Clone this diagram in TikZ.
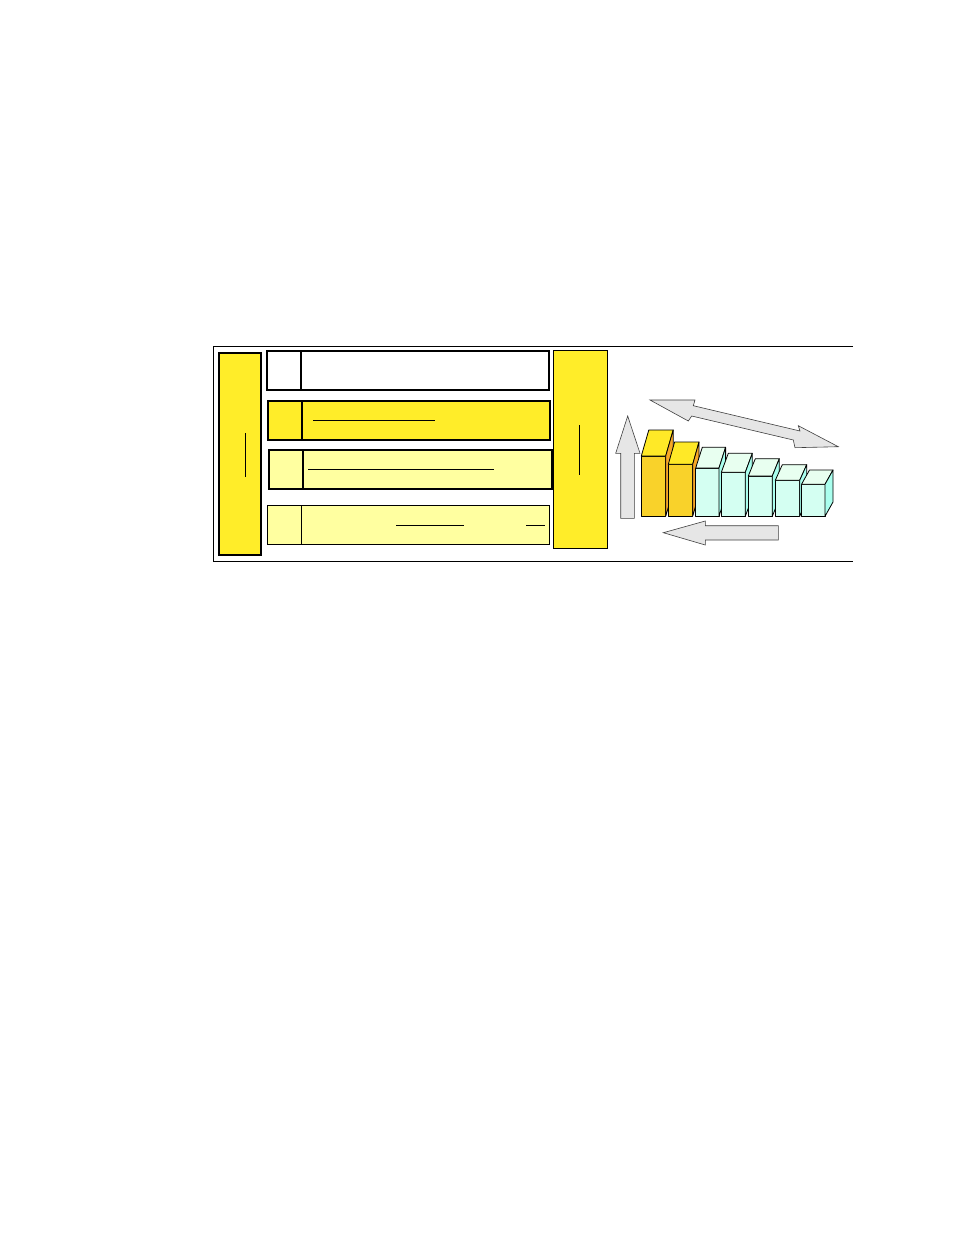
\documentclass[tikz,border=0pt]{standalone}
\definecolor{baryellow}{HTML}{FFED29}
\definecolor{paleyellow}{HTML}{FFFFA0}
\definecolor{goldfront}{HTML}{F9D22A}
\definecolor{goldtop}{HTML}{FFE927}
\definecolor{goldside}{HTML}{F7A826}
\definecolor{cyanfront}{HTML}{D4FFF2}
\definecolor{cyantop}{HTML}{E8FFF0}
\definecolor{cyanside}{HTML}{AAFFEE}
\definecolor{arrowgray}{HTML}{E6E6E6}
\definecolor{arrowedge}{HTML}{404040}
\newcommand\mycube[9]{%
  \filldraw[cubeedge, fill=#7] (#1,#4) rectangle (#2,#3);
  \filldraw[cubeedge, fill=#8] (#1,#3) -- (#1+#5,#3-#6) -- (#2+#5,#3-#6) -- (#2,#3) -- cycle;
  \filldraw[cubeedge, fill=#9] (#2,#3) -- (#2+#5,#3-#6) -- (#2+#5,#4-#6) -- (#2,#4) -- cycle;
}
\begin{document}
\begin{tikzpicture}[x=1pt,y=-1pt,
  thickbox/.style={draw=black, line width=2pt},
  thinbox/.style={draw=black, line width=1pt},
  rulemark/.style={draw=black, line width=0.9pt},
  grayarrow/.style={fill=arrowgray, draw=arrowedge, line width=0.6pt, line join=miter},
  cubeedge/.style={draw=black, line width=0.8pt, line join=round}]
\useasboundingbox (0,0) rectangle (954,1235);
\fill[white] (0,0) rectangle (954,1235);
% outer frame (open on the right)
\draw[line width=1pt] (853,346.3) -- (213.3,346.3) -- (213.3,561) -- (853,561);
% left bar
\filldraw[thickbox, fill=baryellow] (219,352.7) rectangle (261,555);
\draw[rulemark] (245.3,433) -- (245.3,476.7);
% right bar
\filldraw[thinbox, fill=baryellow] (553.3,350.3) rectangle (607.7,548.7);
\draw[rulemark] (579.3,425) -- (579.3,474.7);
% row 1
\filldraw[thickbox, fill=white] (266.7,350.7) rectangle (549.3,390);
\draw[thickbox] (300.7,350.7) -- (300.7,390);
% row 2
\filldraw[thickbox, fill=baryellow] (267.7,400.7) rectangle (550.3,440);
\draw[thickbox] (302,400.7) -- (302,440);
\draw[rulemark] (313,420.3) -- (435,420.3);
% row 3
\filldraw[thickbox, fill=paleyellow] (268.7,449.7) rectangle (551.7,489);
\draw[thickbox] (303,449.7) -- (303,489);
\draw[rulemark] (308,469.3) -- (493.7,469.3);
% row 4
\filldraw[thinbox, fill=paleyellow] (267.3,505.3) rectangle (549.3,544.3);
\draw[thinbox] (301.3,505.3) -- (301.3,544.3);
\draw[rulemark] (396,525.3) -- (464,525.3);
\draw[rulemark] (526,525.3) -- (544.7,525.3);
% up arrow
\filldraw[grayarrow] (627.7,416) -- (640,453.3) -- (634.3,453.3) -- (634.3,518.3)
  -- (620.7,518.3) -- (620.7,453.3) -- (615.7,453.3) -- cycle;
% double arrow
\filldraw[grayarrow] (650,400) -- (695,400) -- (693.3,405.7) -- (800,431) -- (798.3,425.7)
  -- (838.3,446.7) -- (795,447.7) -- (793.3,440) -- (691.7,416) -- (688.3,421) -- cycle;
% left arrow
\filldraw[grayarrow] (663.3,532.7) -- (705.3,521) -- (705.3,525.7) -- (778.3,525.7)
  -- (778.3,540) -- (705.3,540) -- (705.3,545) -- cycle;
% cubes
\mycube{641.3}{665.7}{456}{516.3}{7.5}{26}{goldfront}{goldtop}{goldside}
\mycube{668.3}{692.7}{464.3}{516.3}{6.3}{22.3}{goldfront}{goldtop}{goldside}
\mycube{695.7}{719}{468}{516.3}{6.6}{20.7}{cyanfront}{cyantop}{cyanside}
\mycube{721.3}{745.3}{472.3}{516.3}{7}{19}{cyanfront}{cyantop}{cyanside}
\mycube{748.3}{772.3}{476}{516.3}{7}{17.3}{cyanfront}{cyantop}{cyanside}
\mycube{775.3}{799.7}{480.3}{516.3}{7}{15.6}{cyanfront}{cyantop}{cyanside}
\mycube{801.5}{825}{484.3}{516.3}{8}{14.3}{cyanfront}{cyantop}{cyanside}
\end{tikzpicture}
\end{document}
